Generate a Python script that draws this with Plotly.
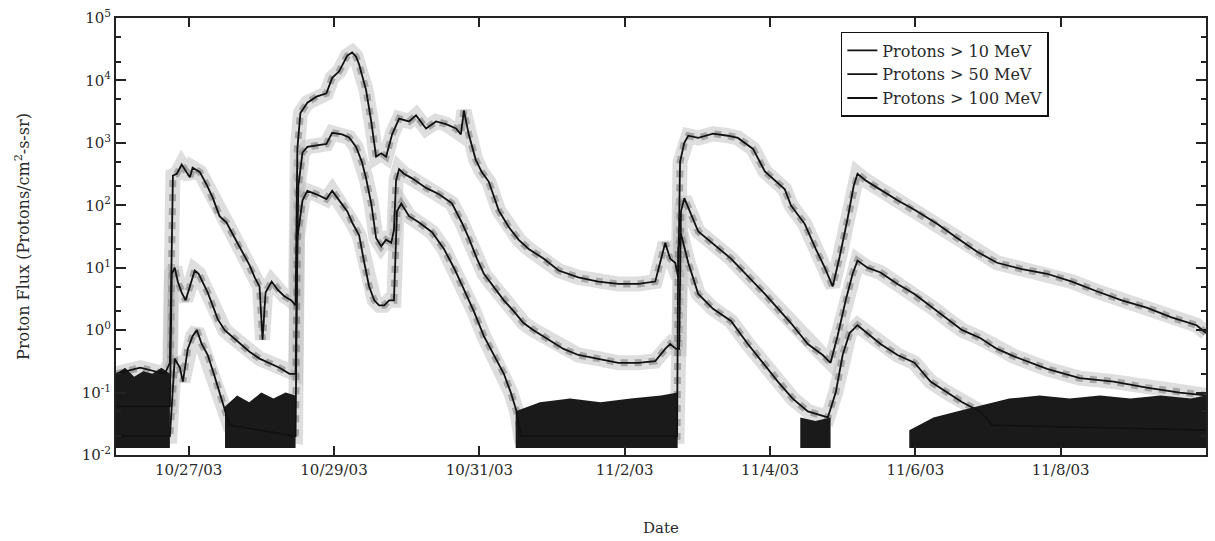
import pandas as pd
import plotly.graph_objects as go

START = pd.Timestamp("2003-10-26 00:00")
END = pd.Timestamp("2003-11-10 00:00")

# ---- data (hours since 2003-10-26 00:00 UT, flux in protons/cm2-s-sr) ----
p10_hours = [0, 8, 16.1, 17.8, 18.8, 20.1, 21.7, 23.4, 24.4, 25.3, 27.7, 30.0, 31.9, 34.2, 36.5, 38.2,
             40.8, 42.5, 44.1, 45.8, 47.4, 48.4, 49.4, 51.4, 53.3, 55.6, 57.9, 59.3, 59.9, 60.9, 63.2,
             66.2, 69.5, 71.4, 73.7, 76.4, 78.0, 79.3, 80.3, 82.6, 84.3, 85.9, 87.6, 89.2, 91.2, 93.5,
             96.8, 99.1, 102.4, 105.7, 109.0, 112.3, 113.9, 114.9, 116.5, 118.8, 120.8, 123.1, 126.4,
             129.7, 133.0, 136.3, 141.2, 146.2, 152.7, 159.3, 165.9, 172.5, 178.1, 181.4, 183.0, 184.7,
             185.7, 186.3, 187.7, 189.0, 192.3, 197.2, 202.1, 205.4, 210.4, 214.3, 220.9, 222.9, 227.5,
             231.1, 234.1, 236.7, 239.0, 241.6, 243.6, 244.9, 247.6, 251.5, 258.1, 263.7, 271.3, 277.8,
             284.4, 291.0, 299.2, 307.5, 315.7, 323.9, 332.2, 340.4, 348.6, 356.9, 360]
p10_flux = [0.2, 0.25, 0.2, 0.3, 300, 320, 450, 340, 280, 400, 340, 210, 134, 67, 53, 37,
            22, 16, 11, 7, 5, 0.7, 4, 6, 4.5, 3.5, 3, 2.5, 800, 3000, 4400,
            5500, 6200, 11000, 14000, 25000, 28000, 24000, 18000, 7000, 2200, 600, 680, 600, 1370, 2450,
            2200, 2750, 1700, 2200, 2000, 1700, 1370, 3300, 1370, 540, 340, 240, 83,
            45, 28, 20, 14, 9, 7, 6, 5.5, 5.5, 6, 25, 14, 12,
            7, 500, 1000, 1300, 1200, 1400, 1300, 1200, 800, 350, 180, 100, 50,
            20, 10, 5, 15, 60, 200, 320, 250, 190, 120, 85, 50, 30,
            18, 12, 9.5, 8, 6, 4.2, 3, 2.3, 1.6, 1.2, 0.9]

p50_hours = [0, 16.1, 17.8, 18.4, 19.4, 20.4, 21.7, 23.0, 24.4, 26.0, 27.3, 28.6, 30.3, 31.9, 33.6,
             35.9, 38.2, 40.8, 44.1, 47.4, 50.7, 54.0, 57.3, 59.3, 60.2, 61.6, 63.2, 66.2, 69.5, 71.4,
             74.7, 77.0, 79.3, 81.3, 82.6, 84.3, 85.9, 87.6, 89.2, 90.9, 91.8, 92.5, 93.5, 95.1, 97.8,
             102.4, 106.7, 110.9, 114.2, 116.5, 119.2, 121.5, 124.8, 128.1, 131.4, 134.6, 137.9, 142.9,
             147.8, 152.7, 159.3, 165.9, 172.5, 178.1, 181.4, 183.0, 185.0, 186.0, 186.6, 187.7, 192.3,
             203.1, 214.3, 222.9, 228.5, 233.4, 236.0, 238.3, 241.0, 243.3, 244.9, 248.2, 252.5, 258.1,
             263.7, 269.6, 274.5, 279.5, 285.4, 291.0, 296.6, 307.5, 318.3, 329.5, 340.4, 351.3, 360]
p50_flux = [0.06, 0.06, 0.06, 8, 10, 6, 4, 3, 5, 9, 8, 6, 4, 2.5, 1.5,
            1.0, 0.8, 0.6, 0.45, 0.35, 0.3, 0.25, 0.2, 0.2, 200, 700, 860, 910, 960, 1450,
            1370, 1220, 860, 480, 270, 107, 30, 22, 28, 25, 40, 250, 380, 320, 270,
            190, 150, 108, 53, 30, 14, 8, 5, 3, 2, 1.3, 1.0, 0.7,
            0.5, 0.4, 0.35, 0.3, 0.3, 0.32, 0.5, 0.6, 0.5, 0.5, 80, 130, 38,
            14, 3.8, 1.3, 0.6, 0.4, 0.3, 0.8, 3, 8, 13, 10, 8.4, 5.5,
            3.8, 2.3, 1.5, 1.0, 0.75, 0.5, 0.38, 0.24, 0.17, 0.15, 0.12, 0.1, 0.09]

p100_hours = [0, 17.8, 19.4, 21.1, 22.1, 23.7, 25.3, 26.7, 28.3, 30.3, 32.3, 34.2, 35.9, 37.5, 59.3,
              59.9, 61.6, 63.2, 66.2, 69.5, 71.4, 73.7, 76.4, 78.0, 80.3, 82.0, 83.6, 85.3, 86.9, 88.6,
              90.2, 91.8, 92.8, 94.2, 96.8, 100.1, 104.4, 108.3, 111.6, 114.9, 118.2, 121.5, 124.8,
              128.1, 130.4, 132.3, 133.7, 185.3, 185.7, 186.6, 189.0, 192.3, 197.2, 203.1, 208.7, 213.7,
              218.6, 223.5, 228.5, 235.1, 237.7, 240.0, 242.3, 244.9, 248.2, 252.5, 258.1, 263.7, 269.0,
              274.5, 279.5, 285.4, 289.4, 360]
p100_flux = [0.02, 0.02, 0.35, 0.25, 0.15, 0.5, 0.8, 1.0, 0.6, 0.4, 0.2, 0.1, 0.05, 0.03, 0.02,
             30, 120, 170, 150, 126, 170, 120, 80, 53, 33, 12, 5, 3, 2.5, 2.5,
             3, 3, 80, 107, 67, 53, 37, 20, 10, 4.5, 2, 0.8, 0.4,
             0.2, 0.1, 0.05, 0.02, 0.02, 20, 35, 12, 3.8, 2.2, 1.4, 0.6, 0.3,
             0.15, 0.08, 0.05, 0.04, 0.1, 0.4, 0.9, 1.2, 0.9, 0.6, 0.4, 0.3, 0.15,
             0.1, 0.07, 0.05, 0.03, 0.025]

# background-noise envelopes (hours, upper edge); lower edge = detector floor
floor_flux = 0.013
noise_bands = [
    ([0, 3, 6, 9, 12, 15, 17.8], [0.2, 0.25, 0.18, 0.22, 0.2, 0.25, 0.2]),
    ([36, 40, 44, 48, 52, 56, 59.3], [0.06, 0.09, 0.07, 0.1, 0.08, 0.1, 0.09]),
    ([132, 140, 150, 160, 170, 180, 185.5], [0.05, 0.07, 0.08, 0.07, 0.08, 0.09, 0.1]),
    ([226, 231, 236], [0.04, 0.035, 0.04]),
    ([262, 270, 278, 285, 295, 305, 315, 325, 335, 345, 355, 360],
     [0.025, 0.04, 0.05, 0.06, 0.08, 0.09, 0.08, 0.09, 0.08, 0.09, 0.08, 0.09]),
]

series_names = ["Protons > 10 MeV", "Protons > 50 MeV", "Protons > 100 MeV"]

x_tick_dates = ["2003-10-27", "2003-10-29", "2003-10-31", "2003-11-02", "2003-11-04", "2003-11-06", "2003-11-08"]
x_tick_labels = ["10/27/03", "10/29/03", "10/31/03", "11/2/03", "11/4/03", "11/6/03", "11/8/03"]
y_tick_vals = [1e-2, 1e-1, 1e0, 1e1, 1e2, 1e3, 1e4, 1e5]
y_tick_labels = ["10<sup>-2</sup>", "10<sup>-1</sup>", "10<sup>0</sup>", "10<sup>1</sup>",
                 "10<sup>2</sup>", "10<sup>3</sup>", "10<sup>4</sup>", "10<sup>5</sup>"]


def to_time(hours):
    return [START + pd.Timedelta(hours=h) for h in hours]


FONT = "DejaVu Serif"
TXT = "#2a2a2a"
fig = go.Figure()

series = [(p10_hours, p10_flux), (p50_hours, p50_flux), (p100_hours, p100_flux)]
# grey speckled halos
for hrs, flux in series:
    fig.add_trace(go.Scatter(x=to_time(hrs), y=flux, mode="lines",
                             line=dict(color="rgba(195,195,195,0.55)", width=15),
                             showlegend=False, hoverinfo="skip"))
    fig.add_trace(go.Scatter(x=to_time(hrs), y=flux, mode="lines",
                             line=dict(color="rgba(120,120,120,0.55)", width=7, dash="dot"),
                             showlegend=False, hoverinfo="skip"))

# noise blocks
for hrs, hi in noise_bands:
    t = to_time(hrs)
    fig.add_trace(go.Scatter(
        x=t + t[::-1], y=hi + [floor_flux] * len(hi), fill="toself",
        fillcolor="#1a1a1a", line=dict(width=0), mode="lines",
        showlegend=False, hoverinfo="skip"))

# black lines
for (hrs, flux), name in zip(series, series_names):
    fig.add_trace(go.Scatter(x=to_time(hrs), y=flux, mode="lines", name=name,
                             line=dict(color="#111111", width=1.8)))

fig.update_layout(
    width=1215, height=541, autosize=False,
    margin=dict(l=116, r=7, t=17, b=83),
    paper_bgcolor="white", plot_bgcolor="white",
    font=dict(family=FONT, size=15, color=TXT),
    legend=dict(x=0.665, y=0.968, xanchor="left", yanchor="top",
                bgcolor="white", bordercolor="#111", borderwidth=1.5,
                font=dict(family=FONT, size=16, color=TXT), tracegroupgap=0,
                itemwidth=30),
)
fig.update_xaxes(
    type="date", range=[START, END],
    tickvals=pd.to_datetime(x_tick_dates), ticktext=x_tick_labels,
    ticks="inside", ticklen=9, tickwidth=1.5, tickcolor="#222",
    showline=True, linecolor="#222", linewidth=2, mirror="ticks",
    showgrid=False, zeroline=False,
    tickfont=dict(family=FONT, size=15, color=TXT),
    title=dict(text="Date", font=dict(family=FONT, size=15, color=TXT), standoff=44),
)
fig.update_yaxes(
    type="log", range=[-2, 5],
    tickvals=y_tick_vals, ticktext=y_tick_labels,
    ticks="inside", ticklen=10, tickwidth=1.5, tickcolor="#222",
    minor=dict(ticks="inside", ticklen=5, tickcolor="#222", showgrid=False),
    showline=True, linecolor="#222", linewidth=2, mirror="ticks",
    showgrid=False, zeroline=False,
    tickfont=dict(family=FONT, size=15, color=TXT),
    title=dict(text="Proton Flux (Protons/cm<sup>2</sup>-s-sr)",
               font=dict(family=FONT, size=16, color=TXT), standoff=48),
)

fig.write_html("out.html", config={"displayModeBar": False},
               post_script="document.body.style.margin='0';")
